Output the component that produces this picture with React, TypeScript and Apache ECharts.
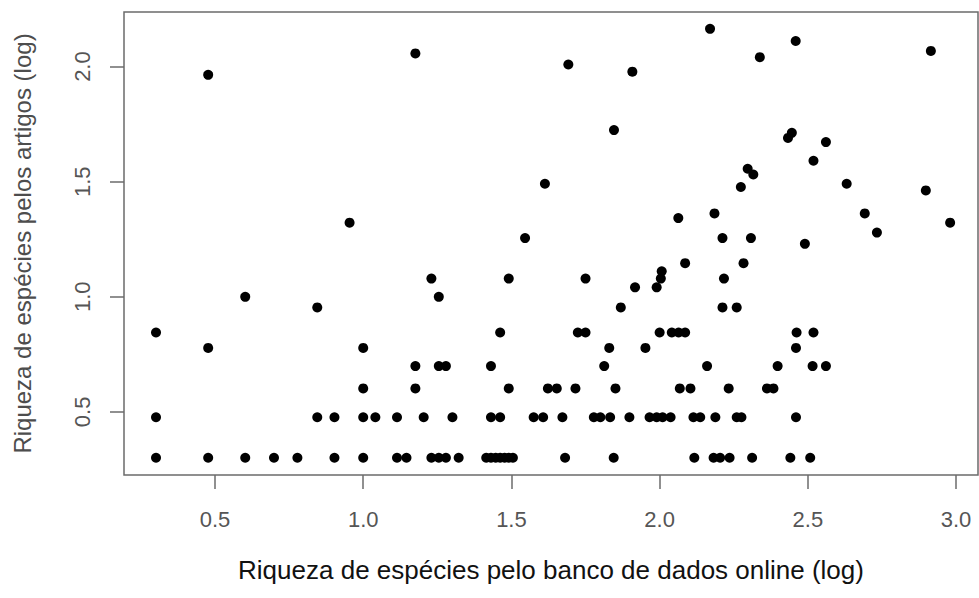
import React, { useEffect, useRef } from "react";
import * as echarts from "echarts";

// Tick values
const xTicks = [0.5, 1.0, 1.5, 2.0, 2.5, 3.0];
const yTicks = [0.5, 1.0, 1.5, 2.0];

const xTitle = "Riqueza de espécies pelo banco de dados online (log)";
const yTitle = "Riqueza de espécies pelos artigos (log)";

// Rows of points sharing the same y (log richness from articles)
const rowLevels = [0.301, 0.477, 0.602, 0.699, 0.778, 0.845, 0.954];
const rowAt0301 = [0.301, 0.477, 0.602, 0.699, 0.778, 0.903, 1.0, 1.114, 1.146, 1.23, 1.255, 1.279, 1.322, 1.415, 1.431, 1.447, 1.462, 1.477, 1.491, 1.505, 1.681, 1.845, 2.117, 2.182, 2.204, 2.236, 2.312, 2.441, 2.508];
const rowAt0477 = [0.301, 0.845, 0.903, 1.0, 1.041, 1.114, 1.204, 1.301, 1.431, 1.462, 1.575, 1.607, 1.672, 1.778, 1.8, 1.833, 1.898, 1.966, 1.99, 2.01, 2.037, 2.114, 2.137, 2.188, 2.26, 2.276, 2.46];
const rowAt0602 = [1.0, 1.176, 1.491, 1.623, 1.653, 1.716, 1.851, 2.068, 2.104, 2.233, 2.362, 2.384];
const rowAt0699 = [1.176, 1.255, 1.279, 1.431, 1.813, 2.16, 2.398, 2.516, 2.561];
const rowAt0778 = [0.477, 1.0, 1.83, 1.952, 2.46];
const rowAt0845 = [0.301, 1.462, 1.724, 1.75, 2.0, 2.041, 2.064, 2.086, 2.462, 2.519];
const rowAt0954 = [0.845, 1.869, 2.212, 2.26];
const rowXs = [rowAt0301, rowAt0477, rowAt0602, rowAt0699, rowAt0778, rowAt0845, rowAt0954];

// Remaining scattered points (parallel arrays)
const otherX = [0.602, 1.255, 1.23, 1.491, 1.75, 1.917, 1.99, 2.004, 2.007, 2.086, 2.217, 2.283, 2.49, 2.212, 2.308, 1.546, 0.954, 2.063, 2.185, 2.692, 2.733, 2.98, 2.274, 1.613, 2.631, 2.898, 2.297, 2.316, 2.519, 2.561, 2.433, 2.446, 1.846, 0.477, 1.176, 1.692, 1.908, 2.17, 2.338, 2.459, 2.915];
const otherY = [1.0, 1.0, 1.079, 1.079, 1.079, 1.041, 1.041, 1.079, 1.111, 1.146, 1.079, 1.146, 1.23, 1.255, 1.255, 1.255, 1.322, 1.342, 1.362, 1.362, 1.279, 1.322, 1.477, 1.491, 1.491, 1.462, 1.556, 1.531, 1.591, 1.672, 1.69, 1.712, 1.724, 1.964, 2.057, 2.009, 1.978, 2.164, 2.041, 2.111, 2.068];

const FONT = "'Liberation Sans', Arial, sans-serif";

export default function App() {
  const ref = useRef<HTMLDivElement>(null);
  useEffect(() => {
    const chart = echarts.init(ref.current as HTMLDivElement, null, { renderer: "svg" });
    const data: number[][] = [];
    rowLevels.forEach((y, i) => rowXs[i].forEach((x) => data.push([x, y])));
    otherX.forEach((x, i) => data.push([x, otherY[i]]));

    chart.setOption({
      animation: false,
      backgroundColor: "#ffffff",
      grid: {
        left: 124,
        right: 1,
        top: 12,
        bottom: 123,
        show: true,
        borderColor: "#6b6b6b",
        borderWidth: 1.5,
        backgroundColor: "transparent",
      },
      xAxis: {
        type: "value",
        min: 0.193,
        max: 3.074,
        axisLine: { show: false },
        axisTick: {
          show: true,
          length: 14,
          customValues: xTicks,
          lineStyle: { color: "#6b6b6b", width: 1.5 },
        },
        axisLabel: {
          customValues: xTicks,
          formatter: (v: number) => v.toFixed(1),
          margin: 33,
          fontSize: 22,
          color: "#555555",
          fontFamily: FONT,
        },
        splitLine: { show: false },
        name: xTitle,
        nameLocation: "middle",
        nameGap: 82,
        nameTextStyle: { fontSize: 26, color: "#111111", fontFamily: FONT },
      },
      yAxis: {
        type: "value",
        min: 0.226,
        max: 2.237,
        axisLine: { show: false },
        axisTick: {
          show: true,
          length: 14,
          customValues: yTicks,
          lineStyle: { color: "#6b6b6b", width: 1.5 },
        },
        axisLabel: {
          customValues: yTicks,
          formatter: (v: number) => v.toFixed(1),
          rotate: 90,
          margin: 31,
          fontSize: 22,
          color: "#555555",
          fontFamily: FONT,
        },
        splitLine: { show: false },
        name: yTitle,
        nameLocation: "middle",
        nameRotate: 90,
        nameGap: 90,
        nameTextStyle: { fontSize: 24, color: "#4d4d4d", fontFamily: FONT },
      },
      series: [
        {
          type: "scatter",
          data,
          symbol: "circle",
          symbolSize: 10,
          itemStyle: { color: "#000000", opacity: 1 },
          emphasis: { disabled: true },
        },
      ],
    });
    return () => chart.dispose();
  }, []);
  return (
    <div
      ref={ref}
      style={{ position: "fixed", left: 0, top: 0, width: 979, height: 598, background: "#fff" }}
    />
  );
}
